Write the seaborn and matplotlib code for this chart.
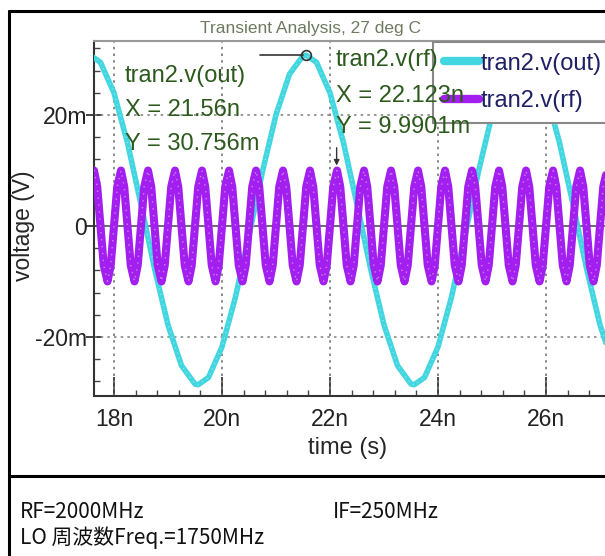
import matplotlib
matplotlib.use("Agg")
import matplotlib.pyplot as plt
from matplotlib.lines import Line2D
from matplotlib.ticker import MultipleLocator
import pandas as pd
import seaborn as sns

# --- readings (time in ns, voltage in mV)
out_time = [17.50, 17.56, 17.75, 18.00, 18.25, 18.50, 18.75, 19.00, 19.25, 19.50, 19.56, 19.75,
            20.00, 20.25, 20.50, 20.75, 21.00, 21.25, 21.50, 21.56, 21.75, 22.00,
            22.25, 22.50, 22.75, 23.00, 23.25, 23.50, 23.56, 23.75, 24.00, 24.25, 24.50,
            24.75, 25.00, 25.25, 25.50, 25.56, 25.75, 26.00, 26.25, 26.50, 26.75, 27.00,
            27.25]
out_mv = [30.67, 30.76, 29.49, 23.98, 15.00, 3.90, -7.63, -17.83, -25.15, -28.47, -28.60, -27.29,
          -21.78, -12.80, -1.70, 9.83, 20.03, 27.35, 30.67, 30.76, 29.49, 23.98,
          15.00, 3.90, -7.63, -17.83, -25.15, -28.47, -28.60, -27.29, -21.78, -12.80, -1.70,
          9.83, 20.03, 27.35, 30.67, 30.76, 29.49, 23.98, 15.00, 3.90, -7.63, -17.83,
          -25.15]

rf_time = [17.50, 17.56, 17.63, 17.69, 17.75, 17.81, 17.88, 17.94,
           18.00, 18.06, 18.13, 18.19, 18.25, 18.31, 18.38, 18.44, 18.50, 18.56, 18.63, 18.69, 18.75, 18.81, 18.88, 18.94,
           19.00, 19.06, 19.13, 19.19, 19.25, 19.31, 19.38, 19.44, 19.50, 19.56, 19.63, 19.69, 19.75, 19.81, 19.88, 19.94,
           20.00, 20.06, 20.13, 20.19, 20.25, 20.31, 20.38, 20.44, 20.50, 20.56, 20.63, 20.69, 20.75, 20.81, 20.88, 20.94,
           21.00, 21.06, 21.13, 21.19, 21.25, 21.31, 21.38, 21.44, 21.50, 21.56, 21.63, 21.69, 21.75, 21.81, 21.88, 21.94,
           22.00, 22.06, 22.13, 22.19, 22.25, 22.31, 22.38, 22.44, 22.50, 22.56, 22.63, 22.69, 22.75, 22.81, 22.88, 22.94,
           23.00, 23.06, 23.13, 23.19, 23.25, 23.31, 23.38, 23.44, 23.50, 23.56, 23.63, 23.69, 23.75, 23.81, 23.88, 23.94,
           24.00, 24.06, 24.13, 24.19, 24.25, 24.31, 24.38, 24.44, 24.50, 24.56, 24.63, 24.69, 24.75, 24.81, 24.88, 24.94,
           25.00, 25.06, 25.13, 25.19, 25.25, 25.31, 25.38, 25.44, 25.50, 25.56, 25.63, 25.69, 25.75, 25.81, 25.88, 25.94,
           26.00, 26.06, 26.13, 26.19, 26.25, 26.31, 26.38, 26.44, 26.50, 26.56, 26.63, 26.69, 26.75, 26.81, 26.88, 26.94,
           27.00, 27.06, 27.13, 27.19, 27.25]
rf_mv = [0, 7.07, 9.99, 7.07, 0, -7.07, -9.99, -7.07,
         0, 7.07, 9.99, 7.07, 0, -7.07, -9.99, -7.07, 0, 7.07, 9.99, 7.07, 0, -7.07, -9.99, -7.07,
         0, 7.07, 9.99, 7.07, 0, -7.07, -9.99, -7.07, 0, 7.07, 9.99, 7.07, 0, -7.07, -9.99, -7.07,
         0, 7.07, 9.99, 7.07, 0, -7.07, -9.99, -7.07, 0, 7.07, 9.99, 7.07, 0, -7.07, -9.99, -7.07,
         0, 7.07, 9.99, 7.07, 0, -7.07, -9.99, -7.07, 0, 7.07, 9.99, 7.07, 0, -7.07, -9.99, -7.07,
         0, 7.07, 9.99, 7.07, 0, -7.07, -9.99, -7.07, 0, 7.07, 9.99, 7.07, 0, -7.07, -9.99, -7.07,
         0, 7.07, 9.99, 7.07, 0, -7.07, -9.99, -7.07, 0, 7.07, 9.99, 7.07, 0, -7.07, -9.99, -7.07,
         0, 7.07, 9.99, 7.07, 0, -7.07, -9.99, -7.07, 0, 7.07, 9.99, 7.07, 0, -7.07, -9.99, -7.07,
         0, 7.07, 9.99, 7.07, 0, -7.07, -9.99, -7.07, 0, 7.07, 9.99, 7.07, 0, -7.07, -9.99, -7.07,
         0, 7.07, 9.99, 7.07, 0, -7.07, -9.99, -7.07, 0, 7.07, 9.99, 7.07, 0, -7.07, -9.99, -7.07,
         0, 7.07, 9.99, 7.07, 0]

signal_names = ["tran2.v(out)", "tran2.v(rf)"]
x_ticks = [18, 20, 22, 24, 26]
x_tick_labels = ["18n", "20n", "22n", "24n", "26n"]
y_ticks = [-20, 0, 20]
y_tick_labels = ["-20m", "0", "20m"]

cursor_out = (21.56, 30.756)
cursor_rf = (22.123, 9.9901)
cursor_out_text = ["tran2.v(out)", "X = 21.56n", "Y = 30.756m"]
cursor_rf_text = ["tran2.v(rf)", "X = 22.123n", "Y = 9.9901m"]

title = "Transient Analysis, 27 deg C"
notes = ["RF=2000MHz", "IF=250MHz", "LO 周波数Freq.=1750MHz"]

CYAN = "#42d6e0"
PURPLE = "#a21ff0"
SANS = ["Liberation Sans", "DejaVu Sans"]


def main():
    sns.set_style("ticks")
    plt.rcParams["font.family"] = SANS

    W, H = 605, 556
    fig = plt.figure(figsize=(W / 100, H / 100), dpi=100)
    fig.patch.set_facecolor("white")

    # axes box in pixels: left 94, top 41, bottom 396, right beyond the crop
    ax = fig.add_axes([94 / W, 1 - 396 / H, 526 / W, (396 - 41) / H])
    ax.set_facecolor("white")

    df = pd.concat([
        pd.DataFrame({"time": out_time, "voltage": out_mv, "signal": signal_names[0]}),
        pd.DataFrame({"time": rf_time, "voltage": rf_mv, "signal": signal_names[1]}),
    ])
    sns.lineplot(data=df[df["signal"] == signal_names[0]], x="time", y="voltage",
                 color=CYAN, estimator=None, sort=False, linewidth=4, legend=False, ax=ax, zorder=3)
    sns.lineplot(x=out_time, y=out_mv, color="#c8f4f6", linewidth=0.8, linestyle=(0, (1, 4)),
                 alpha=0.7, estimator=None, sort=False, ax=ax, zorder=3.1)
    sns.lineplot(data=df[df["signal"] == signal_names[1]], x="time", y="voltage",
                 color=PURPLE, estimator=None, sort=False, linewidth=5.8, legend=False, ax=ax, zorder=4)
    # speckled look of the rf trace
    sns.lineplot(x=rf_time, y=rf_mv, color="white", linewidth=1, linestyle=(0, (1, 4)),
                 alpha=0.45, estimator=None, sort=False, ax=ax, zorder=4.1)

    ax.set_xlim(17.63, 27.37)
    ax.set_ylim(-30.63, 33.33)

    ax.set_xticks(x_ticks)
    ax.set_xticklabels(x_tick_labels)
    ax.set_yticks(y_ticks)
    ax.set_yticklabels(y_tick_labels)
    ax.xaxis.set_minor_locator(MultipleLocator(0.4))
    ax.yaxis.set_minor_locator(MultipleLocator(4))
    ax.tick_params(axis="x", which="major", direction="in", length=14, width=1.2,
                   labelsize=16.5, pad=9, colors="#222")
    ax.tick_params(axis="y", which="major", direction="inout", length=12, width=1.2,
                   labelsize=16.5, pad=-1, colors="#222")
    ax.tick_params(which="minor", direction="in", length=4, width=1, colors="#444")

    for v in x_ticks:
        ax.axvline(v, color="#777", linestyle=(0, (1.5, 2.5)), linewidth=1.2, zorder=1)
    for v in y_ticks:
        if v == 0:
            ax.axhline(v, color="#555", linewidth=1.2, zorder=1)
        else:
            ax.axhline(v, color="#888", linestyle=(0, (1.5, 2.5)), linewidth=1.2, zorder=1)

    for side in ["left", "bottom"]:
        ax.spines[side].set_color("#333")
        ax.spines[side].set_linewidth(1.5)
    ax.spines["top"].set_color("#999")
    ax.spines["top"].set_linewidth(1.5)
    ax.spines["right"].set_visible(False)

    ax.set_xlabel("time (s)", fontsize=17)
    ax.set_ylabel("voltage (V)", fontsize=16.5)
    ax.xaxis.set_label_coords((348 - 94) / 526, -(437 - 396) / 355)
    ax.yaxis.set_label_coords((35 - 94) / 526, (396 - 226) / 355)

    # cursors
    ax.plot([20.70, 21.50], [cursor_out[1], cursor_out[1]], color="#333", linewidth=1.2, zorder=6)
    ax.plot([cursor_out[0]], [cursor_out[1]], marker="o", markersize=7, markerfacecolor="none",
            markeredgecolor="#333", markeredgewidth=1.2, zorder=6)
    ax.annotate("", xy=(cursor_rf[0], cursor_rf[1] + 0.4), xytext=(cursor_rf[0], 14.6),
                arrowprops=dict(arrowstyle="-|>", color="#333", linewidth=1.0, mutation_scale=8),
                zorder=6)

    green = "#2c5a1c"
    for txt, y in zip(cursor_out_text, [27.0, 20.9, 14.8]):
        ax.text(18.20, y, txt, fontsize=17, color=green, va="center", ha="left", zorder=8)
    for txt, y in zip(cursor_rf_text, [29.9, 23.4, 17.8]):
        ax.text(22.11, y, txt, fontsize=17, color=green, va="center", ha="left", zorder=8)

    handles = [Line2D([], [], color=CYAN, linewidth=6), Line2D([], [], color=PURPLE, linewidth=6)]
    leg = ax.legend(handles, signal_names, loc="upper left",
                    bbox_to_anchor=(433 / W, 1 - 42 / H), bbox_transform=fig.transFigure,
                    borderaxespad=0, fontsize=17, frameon=True, fancybox=False,
                    handlelength=1.5, handletextpad=0.05, labelspacing=0.65, borderpad=0.45,
                    framealpha=1)
    leg.get_frame().set_edgecolor("#888")
    leg.get_frame().set_linewidth(1.5)
    leg.set_zorder(7)
    for t in leg.get_texts():
        t.set_color("#1f1f66")

    fig.text(310 / W, 1 - 28 / H, title, fontsize=12.5, color="#6e7a60", ha="center", va="center")

    # outer frame and divider
    fig.add_artist(Line2D([9 / W, 9 / W], [0, 1 - 11 / H], color="black", linewidth=2.2))
    fig.add_artist(Line2D([9 / W, 1], [1 - 11 / H, 1 - 11 / H], color="black", linewidth=2.2))
    fig.add_artist(Line2D([9 / W, 1], [1 - 476 / H, 1 - 476 / H], color="black", linewidth=2.2))

    cjk = ["Noto Sans CJK JP", "DejaVu Sans"]
    fig.text(20 / W, 1 - 512 / H, notes[0], fontsize=15, family=cjk, ha="left", va="center", color="#111")
    fig.text(333 / W, 1 - 512 / H, notes[1], fontsize=15, family=cjk, ha="left", va="center", color="#111")
    fig.text(20 / W, 1 - 538 / H, notes[2], fontsize=15, family=cjk, ha="left", va="center", color="#111")

    fig.savefig("out.png", dpi=100, facecolor="white")
    plt.close(fig)


if __name__ == "__main__":
    main()
